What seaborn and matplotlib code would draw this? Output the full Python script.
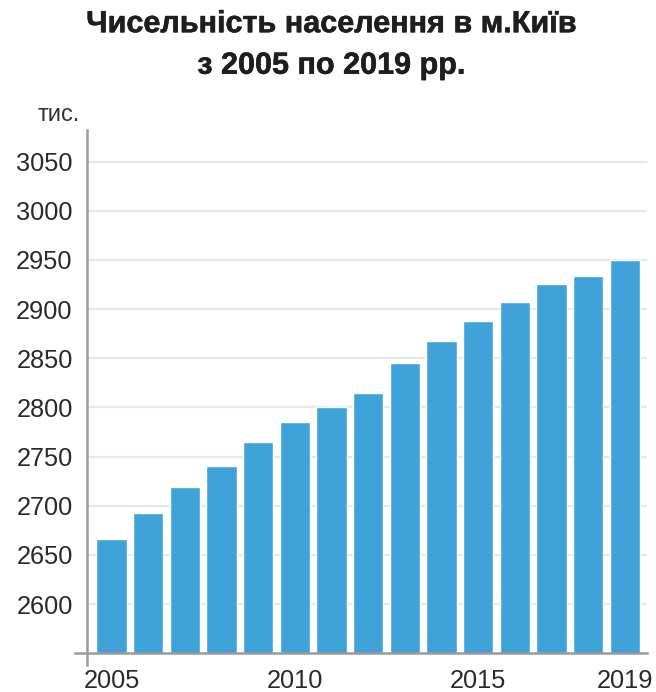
import pandas as pd
import matplotlib
matplotlib.use('Agg')
import matplotlib.pyplot as plt
import matplotlib.patheffects as pe
import seaborn as sns

# Kyiv population, thousands
years = [2005, 2006, 2007, 2008, 2009, 2010, 2011, 2012,
         2013, 2014, 2015, 2016, 2017, 2018, 2019]
population = [2666, 2693, 2719, 2740, 2765, 2785, 2800, 2815,
              2845, 2868, 2888, 2907, 2925, 2934, 2950]
x_ticks = [2005, 2010, 2015, 2019]
y_ticks = [2600, 2650, 2700, 2750, 2800, 2850, 2900, 2950, 3000, 3050]

title_line1 = 'Чисельність населення в м.Київ'
title_line2 = 'з 2005 по 2019 рр.'
unit_label = 'тис.'

sns.set_theme(style='white')
plt.rcParams['font.family'] = ['Liberation Sans', 'DejaVu Sans']

df = pd.DataFrame({'year': years, 'population': population})

fig = plt.figure(figsize=(6.56, 6.92), dpi=100)
ax = fig.add_axes([0.132, 0.056, 0.854, 0.756])

sns.barplot(data=df, x='year', y='population', native_scale=True,
            color='#3fa3da', saturation=1, width=0.83, ax=ax)

ax.set_xlim(2004.32, 2019.6)
ax.set_ylim(2550, 3082)
ax.set_xticks(x_ticks)
ax.set_yticks(y_ticks)
ax.set_xlabel('')
ax.set_ylabel('')

ax.yaxis.grid(True, color='#e8e8e8', linewidth=1.6)
ax.set_axisbelow(True)

for side in ['top', 'right']:
    ax.spines[side].set_visible(False)
for side in ['left', 'bottom']:
    ax.spines[side].set_color('#9a9a9a')
    ax.spines[side].set_linewidth(1.8)
ax.spines['left'].set_bounds(2538, 3082)
ax.spines['bottom'].set_bounds(2004.0, 2019.6)

ax.tick_params(axis='both', which='both', colors='#9a9a9a', length=5, width=1.5,
               labelsize=18.3, labelcolor='#2a2a2a', direction='out')
ax.tick_params(axis='x', length=7, pad=4)
ax.tick_params(axis='y', pad=5)

fig.text(0.057, 0.834, unit_label, fontsize=17, color='#333333', ha='left', va='center')

# slightly heavier bold title
bold = [pe.withStroke(linewidth=0.4, foreground='#1e1e1e')]
fig.text(0.505, 0.965, title_line1, fontsize=22, fontweight='bold',
         color='#1e1e1e', ha='center', va='center', path_effects=bold)
fig.text(0.505, 0.905, title_line2, fontsize=22, fontweight='bold',
         color='#1e1e1e', ha='center', va='center', path_effects=bold)

fig.savefig('out.png', dpi=100)
